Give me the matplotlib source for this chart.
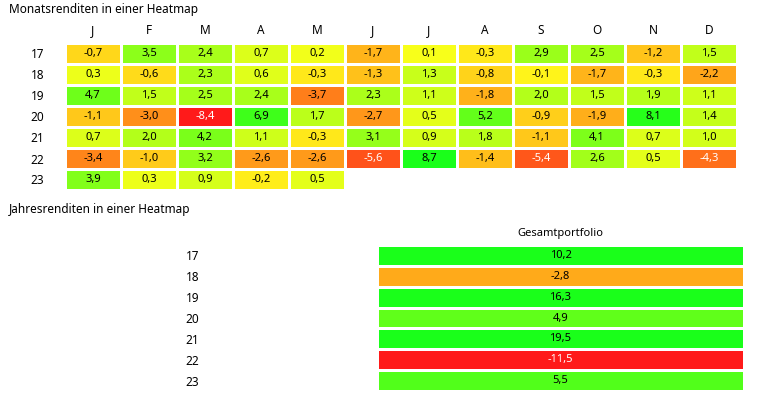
import numpy as np
import matplotlib
matplotlib.use("Agg")
import matplotlib.pyplot as plt
from matplotlib.colors import ListedColormap, TwoSlopeNorm

plt.rcParams['font.family'] = ['Noto Sans', 'DejaVu Sans']

months = ["J", "F", "M", "A", "M", "J", "J", "A", "S", "O", "N", "D"]
years = ["17", "18", "19", "20", "21", "22", "23"]

r17 = [-0.7, 3.5, 2.4, 0.7, 0.2, -1.7, 0.1, -0.3, 2.9, 2.5, -1.2, 1.5]
r18 = [0.3, -0.6, 2.3, 0.6, -0.3, -1.3, 1.3, -0.8, -0.1, -1.7, -0.3, -2.2]
r19 = [4.7, 1.5, 2.5, 2.4, -3.7, 2.3, 1.1, -1.8, 2.0, 1.5, 1.9, 1.1]
r20 = [-1.1, -3.0, -8.4, 6.9, 1.7, -2.7, 0.5, 5.2, -0.9, -1.9, 8.1, 1.4]
r21 = [0.7, 2.0, 4.2, 1.1, -0.3, 3.1, 0.9, 1.8, -1.1, 4.1, 0.7, 1.0]
r22 = [-3.4, -1.0, 3.2, -2.6, -2.6, -5.6, 8.7, -1.4, -5.4, 2.6, 0.5, -4.3]
r23 = [3.9, 0.3, 0.9, -0.2, 0.5]

annual_label = "Gesamtportfolio"
annual = [10.2, -2.8, 16.3, 4.9, 19.5, -11.5, 5.5]


def ryg_cmap():
    t = np.linspace(0, 1, 512)
    cols = []
    for v in t:
        if v < 0.5:
            f = (0.5 - v) / 0.5
            cols.append((1.0, (255 - 229 * f ** 0.7) / 255, 26 / 255))
        else:
            f = (v - 0.5) / 0.5
            cols.append(((255 - 229 * f ** 0.75) / 255, 1.0, 26 / 255))
    return ListedColormap(cols)


def fmt(v):
    return f"{v:.1f}".replace(".", ",")


cmap = ryg_cmap()
W, H = 757, 415
fig = plt.figure(figsize=(W / 100, H / 100), dpi=100)

# monthly heatmap
rows = [r17, r18, r19, r20, r21, r22, r23]
data = np.full((len(years), len(months)), np.nan)
for i, r in enumerate(rows):
    data[i, :len(r)] = r
masked = np.ma.masked_invalid(data)

ax1 = fig.add_axes([65 / W, 1 - 190 / H, 672 / W, 147 / H])
norm1 = TwoSlopeNorm(vmin=-8.4, vcenter=0, vmax=8.7)
ax1.pcolormesh(masked, cmap=cmap, norm=norm1, edgecolors="white", linewidth=1.0)
ax1.set_ylim(len(years), 0)
ax1.set_xlim(0, len(months))
ax1.set_xticks(np.arange(len(months)) + 0.5)
ax1.set_xticklabels(months, fontsize=8.5)
ax1.set_yticks(np.arange(len(years)) + 0.5)
ax1.set_yticklabels(years, fontsize=8.5, ha="center")
ax1.xaxis.tick_top()
ax1.tick_params(axis="x", length=0, pad=4)
ax1.tick_params(axis="y", length=0, pad=20)
for s in ax1.spines.values():
    s.set_visible(False)
for i, r in enumerate(rows):
    for j, v in enumerate(r):
        ax1.text(j + 0.5, i + 0.5, fmt(v), ha="center", va="center", fontsize=8,
                 color="white" if v <= -4 else "black")

# annual heatmap
ax2 = fig.add_axes([377 / W, 1 - 391 / H, 367 / W, 146 / H])
norm2 = TwoSlopeNorm(vmin=-11.5, vcenter=0, vmax=8)
vals = np.array(annual).reshape(-1, 1)
ax2.pcolormesh(vals, cmap=cmap, norm=norm2, edgecolors="white", linewidth=1.0)
ax2.set_ylim(len(years), 0)
ax2.set_xlim(0, 1)
ax2.set_xticks([0.5])
ax2.set_xticklabels([annual_label], fontsize=8)
ax2.set_yticks(np.arange(len(years)) + 0.5)
ax2.set_yticklabels(years, fontsize=8.5, ha="center")
ax2.xaxis.tick_top()
ax2.tick_params(axis="x", length=0, pad=4)
ax2.tick_params(axis="y", length=0, pad=133)
for s in ax2.spines.values():
    s.set_visible(False)
for i, v in enumerate(annual):
    ax2.text(0.5, i + 0.5, fmt(v), ha="center", va="center", fontsize=8,
             color="white" if v <= -4 else "black")

fig.text(9 / W, 1 - 3 / H, "Monatsrenditen in einer Heatmap", fontsize=8.5, va="top")
fig.text(9 / W, 1 - 203 / H, "Jahresrenditen in einer Heatmap", fontsize=8.5, va="top")

fig.savefig("out.png", dpi=100)
